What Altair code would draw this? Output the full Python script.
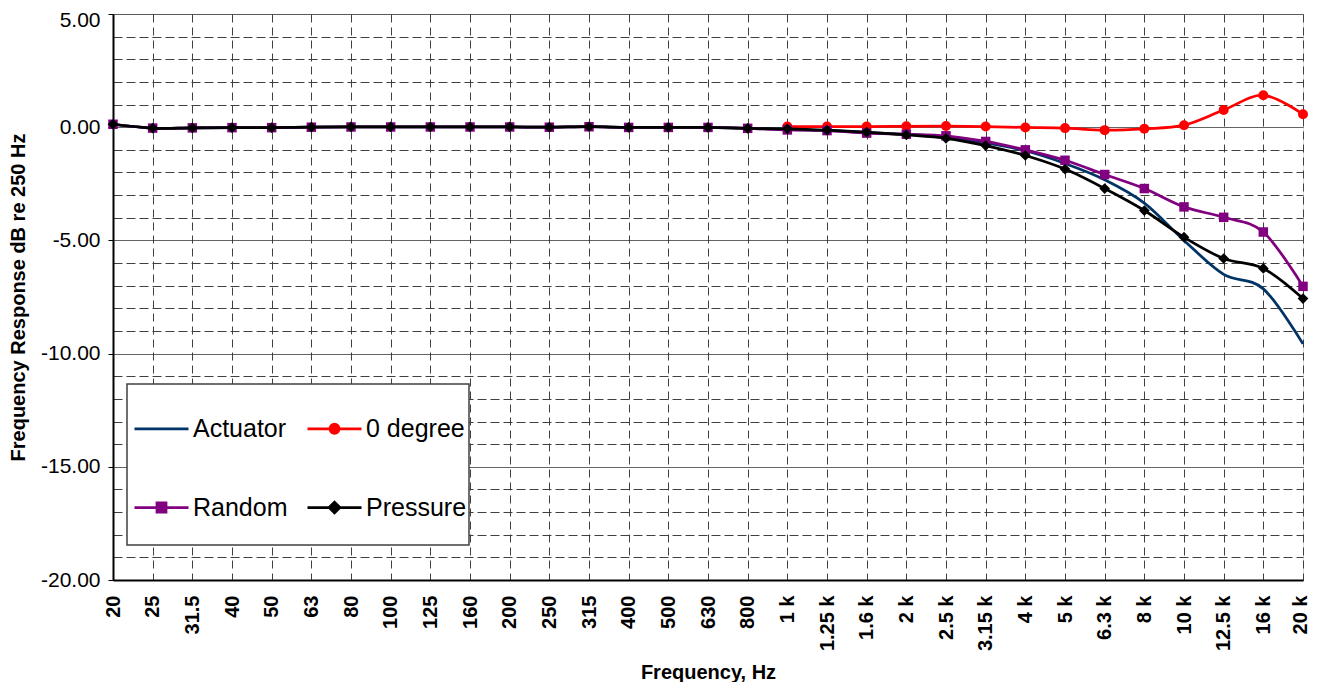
import altair as alt
import pandas as pd

# ---------------- data ----------------
freqs = ["20", "25", "31.5", "40", "50", "63", "80", "100", "125", "160", "200",
         "250", "315", "400", "500", "630", "800", "1 k", "1.25 k", "1.6 k", "2 k",
         "2.5 k", "3.15 k", "4 k", "5 k", "6.3 k", "8 k", "10 k", "12.5 k", "16 k", "20 k"]

low = [0.13, -0.04, -0.03, -0.02, -0.02, 0.0, 0.01, 0.01, 0.01, 0.01, 0.01,
       0.0, 0.02, -0.01, -0.01, -0.01, -0.05]

actuator = low + [-0.10, -0.14, -0.24, -0.32, -0.43, -0.70, -1.04, -1.60, -2.32,
                  -3.35, -5.00, -6.50, -7.14, -9.57]
zero_degree = [None] * 17 + [0.03, 0.03, 0.03, 0.04, 0.05, 0.03, -0.01, -0.04, -0.13,
                             -0.07, 0.09, 0.76, 1.41, 0.57]
random_inc = low + [-0.12, -0.15, -0.26, -0.31, -0.38, -0.63, -1.00, -1.46, -2.09,
                    -2.71, -3.52, -3.98, -4.63, -7.03]
pressure = low + [-0.07, -0.13, -0.22, -0.34, -0.49, -0.81, -1.25, -1.85, -2.71,
                  -3.68, -4.86, -5.80, -6.24, -7.57]

series_names = ["Actuator", "0 degree", "Random", "Pressure"]
series_values = [actuator, zero_degree, random_inc, pressure]
series_colors = ["#003366", "#FF0000", "#800080", "#000000"]
marker_shapes = [None, "circle", "square", "diamond"]
marker_sizes = [0, 100, 90, 115]
legend_paths = [
    "M-1,0H1",
    "M-1,0H1M0.167,0A0.167,0.167,0,1,1,-0.167,0A0.167,0.167,0,1,1,0.167,0Z",
    "M-1,0H1M-0.167,-0.167H0.167V0.167H-0.167Z",
    "M-1,0H1M0,-0.2L0.2,0L0,0.2L-0.2,0Z",
]

rows = []
for name, vals in zip(series_names, series_values):
    for i, (f, v) in enumerate(zip(freqs, vals)):
        if v is not None:
            rows.append({"freq": f, "idx": i, "series": name, "value": v})
df = pd.DataFrame(rows)

FONT = "Liberation Sans"
MAJOR = "datum.value % 5 === 0"

x_enc = alt.X(
    "freq:O",
    sort=freqs,
    scale=alt.Scale(type="point", padding=0, domain=freqs),
    axis=alt.Axis(
        title="Frequency, Hz",
        labelAngle=270,
        labelFont=FONT,
        labelFontSize=20,
        labelFontWeight="bold",
        labelColor="black",
        labelPadding=15,
        labelOverlap=False,
        labelOffset={"condition": {"test": "datum.value === '20 k'", "value": -3}, "value": 0},
        ticks=False,
        domainColor="black",
        domainWidth=2,
        grid=True,
        gridDash=[8, 5],
        gridColor="#404040",
        gridWidth=1,
        titleFont=FONT,
        titleFontSize=20,
        titleFontWeight="bold",
        titleColor="black",
        titleBaseline="alphabetic",
        titleY=98,
    ),
)

y_enc = alt.Y(
    "value:Q",
    scale=alt.Scale(domain=[-20, 5], nice=False, zero=False),
    axis=alt.Axis(
        title="Frequency Response dB re 250 Hz",
        values=list(range(-20, 6)),
        labelExpr=f"{MAJOR} ? datum.value + '.00' : ''",
        labelFont=FONT,
        labelFontSize=21,
        labelColor="black",
        labelPadding=8,
        labelOffset={"condition": {"test": "datum.value === 5", "value": 6}, "value": 0},
        tickSize=5,
        tickColor={"condition": {"test": MAJOR, "value": "#000000"}, "value": "transparent"},
        domainColor="black",
        domainWidth=2,
        grid=True,
        gridDash={"condition": {"test": MAJOR, "value": [1, 0]}, "value": [9, 4]},
        gridColor={"condition": {"test": MAJOR, "value": "#303030"}, "value": "#404040"},
        gridWidth=1,
        titleFont=FONT,
        titleFontSize=20,
        titleFontWeight="bold",
        titleColor="black",
        titlePadding=12,
    ),
)

base = alt.Chart(df)

layers = []
for name, color, shape, size in zip(series_names, series_colors, marker_shapes, marker_sizes):
    sub = base.transform_filter(alt.datum.series == name)
    layers.append(
        sub.mark_line(interpolate="cardinal", strokeWidth=2.75, color=color).encode(
            x=x_enc, y=y_enc, order=alt.Order("idx:Q")
        )
    )
    if shape:
        layers.append(
            sub.mark_point(shape=shape, size=size, filled=True, opacity=1, color=color).encode(
                x=x_enc, y=y_enc
            )
        )

# legend box (decoration)
box = alt.Chart(pd.DataFrame({"k": [0]})).mark_rect(
    fill="white", stroke="#404040", strokeWidth=1.5
).encode(x=alt.value(14), x2=alt.value(356), y=alt.value(370), y2=alt.value(531))

legend = alt.Legend(
    title=None,
    orient="none",
    direction="horizontal",
    legendX=20,
    legendY=386,
    columns=2,
    columnPadding=14,
    rowPadding=37,
    labelFont=FONT,
    labelFontSize=25,
    labelColor="black",
    labelOffset=3,
    labelLimit=400,
    symbolSize=2916,
    symbolStrokeWidth=2.75,
    symbolOpacity=1,
)

legend_layer = base.transform_filter("false").mark_point(
    filled=False, size=2916, strokeWidth=2.75
).encode(
    x=x_enc,
    y=y_enc,
    fill=alt.Fill("series:N", scale=alt.Scale(domain=series_names, range=series_colors), legend=legend),
    stroke=alt.Stroke("series:N", scale=alt.Scale(domain=series_names, range=series_colors), legend=legend),
    shape=alt.Shape("series:N", scale=alt.Scale(domain=series_names, range=legend_paths), legend=legend),
)

chart = alt.layer(box, *layers, legend_layer).properties(
    width=1190,
    height=566,
    padding={"left": 105, "top": 6, "right": 9, "bottom": 102},
    autosize=alt.AutoSizeParams(type="none"),
).configure_view(
    stroke="#808080", strokeWidth=2.5
).configure(background="white")

chart.save("out.html", embed_options={"renderer": "svg", "actions": False})
